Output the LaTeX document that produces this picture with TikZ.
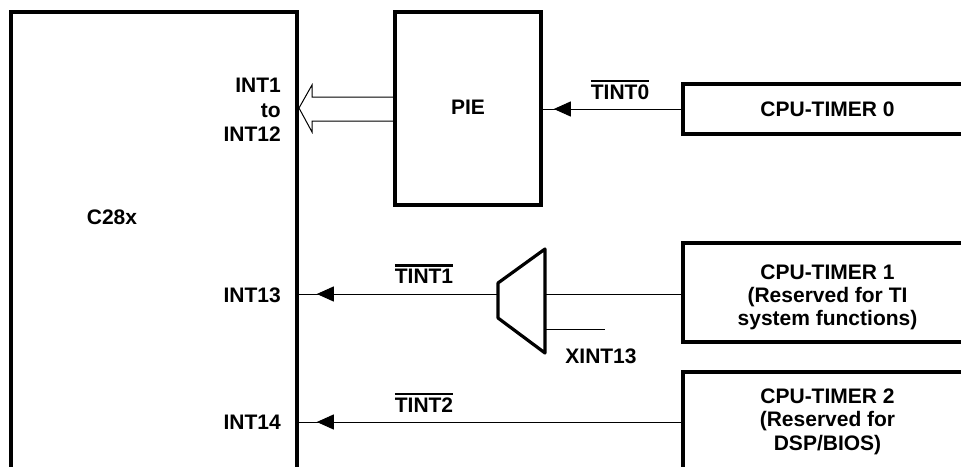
\documentclass[tikz,border=0pt]{standalone}
\usepackage{fontspec}
\setmainfont{Liberation Sans}
\usetikzlibrary{arrows.meta,decorations.markings}
\newcommand\ovlbar[1]{\vbox{\hrule height 2.4pt\kern 2.4pt\hbox{#1}}}
\tikzset{
  thickbox/.style={draw, line width=3.6pt, inner sep=0pt},
  lbl/.style={font=\fontsize{21}{23.2}\selectfont\bfseries, inner sep=0pt},
  sig/.style={line width=1pt},
  arrmark/.style={postaction=decorate, decoration={markings,
    mark=at position #1 with {\arrow{Triangle[length=17pt,width=15pt]}}}}
}
\begin{document}
\begin{tikzpicture}[x=1pt,y=-1pt]
\useasboundingbox (0,0) rectangle (961,466);
\clip (0,0) rectangle (961,466);
% boxes
\node[thickbox, minimum width=286pt, minimum height=478pt] (c28x) at (154,251) {};
\coordinate (hatip) at (299,108);
\draw[sig, fill=white] (hatip) -- (312,85) -- (312,97) -- (395,97) -- (395,121) -- (312,121) -- (312,132) -- cycle;
\node[thickbox, minimum width=146pt, minimum height=193pt] (pie) at (468,108.5) {};
\node[thickbox, minimum width=288pt, minimum height=50pt] (t0) at (827,109) {};
\node[thickbox, minimum width=288pt, minimum height=99pt] (t1) at (827,292.5) {};
\node[thickbox, minimum width=288pt, minimum height=198pt] (t2) at (827,471) {};
% mux
\coordinate (m1) at (498,283);
\coordinate (m2) at (498,318);
\coordinate (m3) at (545,353);
\coordinate (m4) at (545,249);
\draw[line width=3.2pt, line join=round] (m1) -- (m2) -- (m3) -- (m4) -- cycle;
\coordinate (muxin) at (545,294);
\coordinate (muxout) at (498,294);
\coordinate (xin) at (545,329);
\coordinate (xend) at (605,329);
\coordinate (y2) at (683,422);
% connectors
\draw[sig, arrmark=-11pt] (t0.west) -- (t0.west -| pie.east);
\draw[sig] (t1.west |- muxin) -- (muxin);
\draw[sig, arrmark=-18pt] (muxout) -- (muxout -| c28x.east);
\draw[sig] (xin) -- (xend);
\draw[sig, arrmark=-18pt] (y2) -- (y2 -| c28x.east);
% labels
\node[lbl, anchor=base east] (l1) at (281,92.3) {INT1};
\node[lbl, anchor=base east] (l2) at (281,117) {to};
\node[lbl, anchor=base east] (l3) at (281,141.7) {INT12};
\node[lbl, anchor=base] (lc) at (112,224.5) {C28x};
\node[lbl, anchor=base east] (l13) at (281,302) {INT13};
\node[lbl, anchor=base east] (l14) at (281,429.5) {INT14};
\node[lbl, anchor=base] (lpie) at (468,114.5) {PIE};
\node[lbl, anchor=base] (lt0) at (620,99.5) {\ovlbar{TINT0}};
\node[lbl, anchor=base] (lt1) at (424,283.5) {\ovlbar{TINT1}};
\node[lbl, anchor=base] (lt2) at (424,412) {\ovlbar{TINT2}};
\node[lbl, anchor=base] (lx) at (601,363) {XINT13};
\node[lbl, anchor=base] (tx0) at (827.5,116.5) {CPU-TIMER 0};
\node[lbl, anchor=base, align=center] (tx1) at (827.5,325.5) {CPU-TIMER 1\\(Reserved for TI\\system functions)};
\node[lbl, anchor=base, align=center] (tx2) at (827.5,450) {CPU-TIMER 2\\(Reserved for\\DSP/BIOS)};
\end{tikzpicture}
\end{document}
